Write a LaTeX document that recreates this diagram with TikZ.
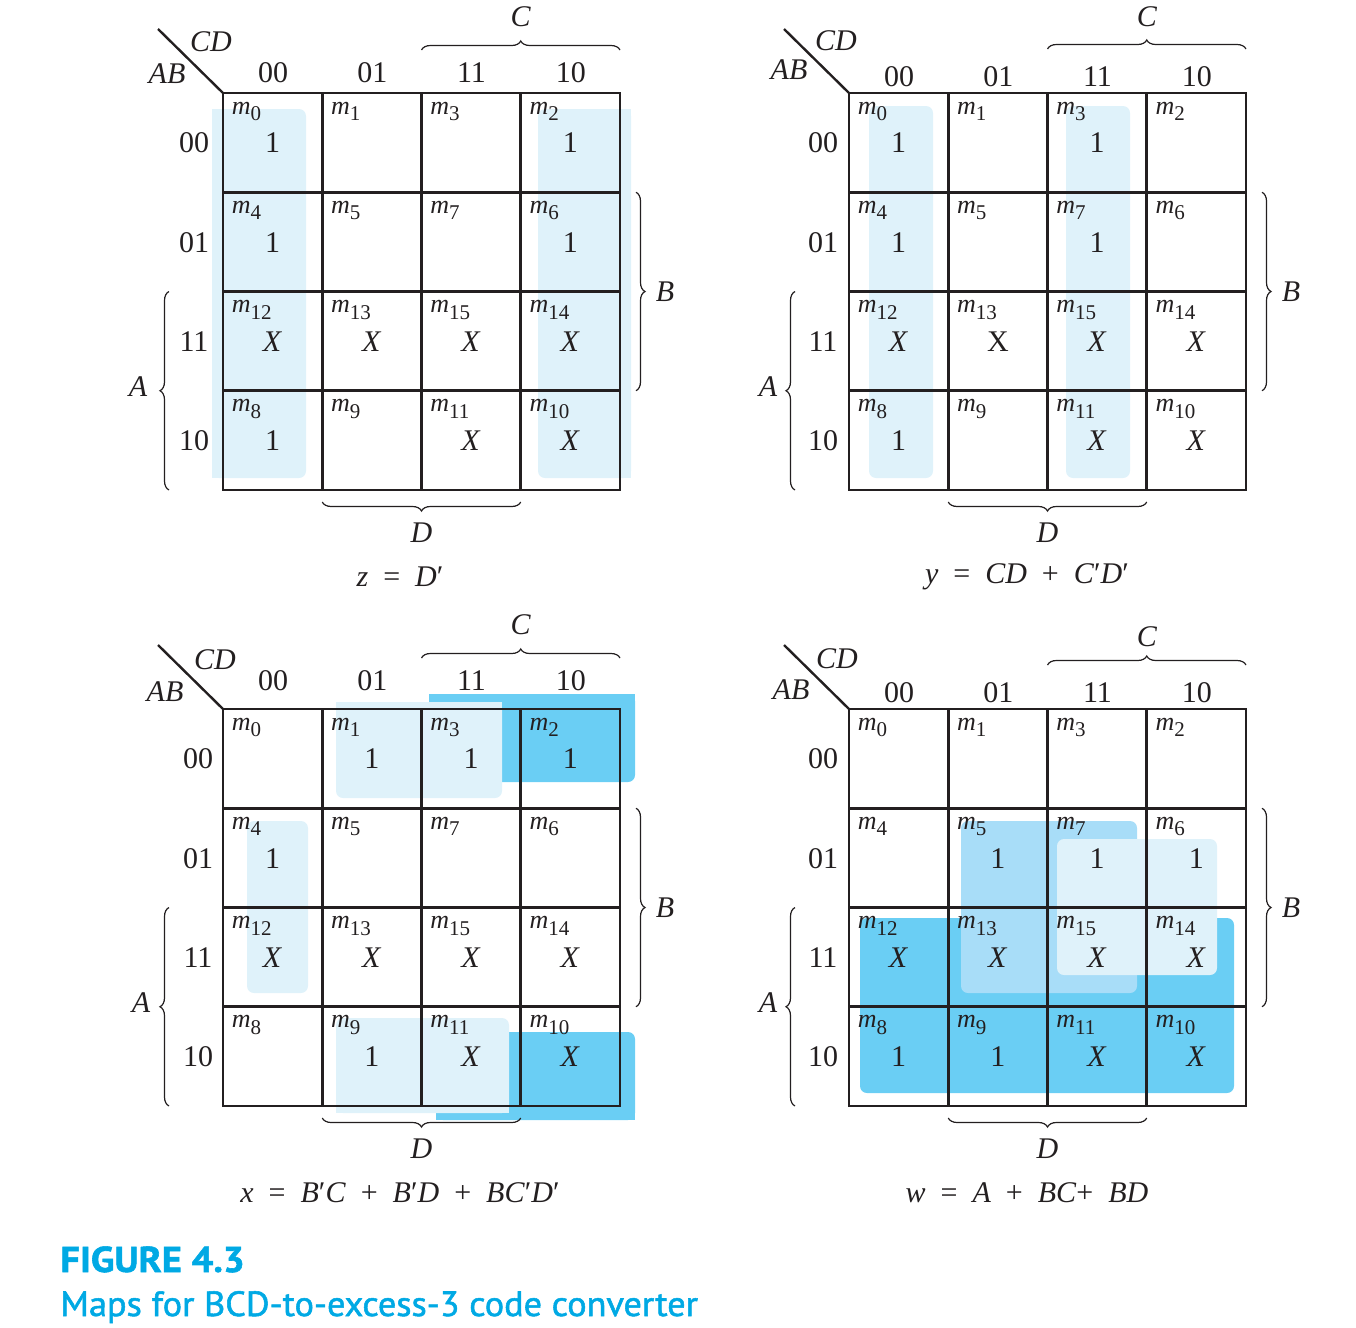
\documentclass[tikz,border=0pt]{standalone}
\usepackage{fontspec}
\setmainfont{Liberation Serif}
\newfontfamily\capfont[FakeBold=1.5]{PT Sans Bold}
\newfontfamily\capsemi[FakeBold=1.5]{PT Sans}
\usetikzlibrary{decorations.pathreplacing}
\definecolor{lt}{RGB}{223,242,250}
\definecolor{md}{RGB}{168,221,248}
\definecolor{dk}{RGB}{106,206,244}
\definecolor{ink}{RGB}{35,31,32}
\definecolor{capblue}{RGB}{0,169,228}
\tikzset{
  grid/.style={line width=1.4pt, draw=ink},
  brc/.style={decorate, decoration={brace, amplitude=4.5pt}, line width=0.6pt, draw=ink},
  lbl/.style={font=\fontsize{15}{17}\selectfont, text=ink, inner sep=0pt},
  var/.style={font=\fontsize{15}{17}\selectfont\itshape, text=ink, inner sep=0pt},
  mt/.style={font=\fontsize{13}{15}\selectfont, text=ink, inner sep=0pt, anchor=base west},
  val/.style={font=\fontsize{15}{17}\selectfont, text=ink, inner sep=0pt},
  eqn/.style={font=\fontsize{15}{17}\selectfont, text=ink, inner sep=0pt},
}
\newcommand\msub[1]{\textit{m}\raisebox{-3.3pt}{\fontsize{10.5}{11}\selectfont #1}}
\newcommand\gap{\hspace{0.5em}}
\newcommand\grp[5]{\fill[#1, rounded corners=3.5pt] (#2,#3) rectangle (#4,#5);}
% frame of one map, drawn in a shifted scope; parameters via \def
\newcommand\kframe[1]{%
  \foreach \c/\r/\m in {0/0/0,1/0/1,2/0/3,3/0/2,0/1/4,1/1/5,2/1/7,3/1/6,0/2/12,1/2/13,2/2/15,3/2/14,0/3/8,1/3/9,2/3/11,3/3/10}
    \node[mt] (#1m\m) at (\c*99.25+8.5, \r*99.25+21) {\msub{\m}};
  \draw[grid] (0,0) rectangle (397,397);
  \foreach \i in {1,2,3}{%
    \draw[grid] (\i*99.25,0) -- (\i*99.25,397);
    \draw[grid] (0,\i*99.25) -- (397,\i*99.25);}
  \foreach \t [count=\i from 0] in {00,01,11,10}{%
    \node[lbl] (#1col\i) at (\i*99.25+50, \hdy) {\t};
    \node[lbl] (#1row\i) at (\rlx, \i*99.25+50) {\t};}
  \coordinate (#1dg) at (-65,-64);
  \coordinate (#1corner) at (0,0);
  \draw[line width=1.2pt, ink] (#1dg) -- (#1corner);
  \node[var] (#1cd) at (\cdx,\cdy) {CD};
  \node[var] (#1ab) at (\abx,\aby) {AB};
  \draw[brc] (198.5,\cby) -- (397,\cby);
  \node[var] (#1C) at (297.75,\cly) {C};
  \draw[brc] (413,99.25) -- (413,297.75);
  \node[var] (#1B) at (442,198.5) {B};
  \draw[brc] (-54,397) -- (-54,198.5);
  \node[var] (#1A) at (\alx,294) {A};
  \draw[brc] (297.75,409) -- (99.25,409);
  \node[var] (#1D) at (198.5,440) {D};
}
\newcommand\kvals[2]{%
  \foreach \c/\r/\v in {#2}
    \node[val] (#1v\c\r) at (\c*99.25+49.6, \r*99.25+50) {\v};
}
\begin{document}
\begin{tikzpicture}[x=0.5pt, y=-0.5pt]
\useasboundingbox (0,0) rectangle (1356,1328);
% ---------- highlights ----------
% z map
\grp{lt}{212}{109}{306}{478}
\fill[lt] (212,109) rectangle (232,478);
\grp{lt}{538}{109}{631}{478}
\fill[lt] (611,109) rectangle (631,478);
% y map
\grp{lt}{869}{106}{933}{478}
\grp{lt}{1066}{106}{1130}{478}
% x map
\grp{dk}{429}{694}{635}{782}
\fill[dk] (429,694) rectangle (635,715);
\grp{dk}{436}{1032}{635}{1120}
\fill[dk] (436,1100) rectangle (635,1120);
\grp{lt}{336}{702}{502}{798}
\fill[lt] (336,702) rectangle (502,720);
\grp{lt}{247}{821}{308}{993}
\grp{lt}{336}{1018}{509}{1113}
\fill[lt] (336,1095) rectangle (509,1113);
% w map
\grp{dk}{860}{918}{1234}{1093}
\grp{md}{961}{821}{1137}{993}
\grp{lt}{1057}{839}{1217}{975}
% ---------- map z ----------
\begin{scope}[shift={(223,93)}]
  \def\hdy{-20}\def\cby{-43}\def\cly{-76}\def\rlx{-29}
  \def\cdx{-12}\def\cdy{-51}\def\abx{-56}\def\aby{-19}\def\alx{-85}
  \kframe{z}
  \kvals{z}{0/0/1,3/0/1,0/1/1,3/1/1,0/2/\textit{X},1/2/\textit{X},2/2/\textit{X},3/2/\textit{X},0/3/1,2/3/\textit{X},3/3/\textit{X}}
  \node[eqn] (zeq) at (177,484) {\textit{z}\gap=\gap\textit{D}′};
\end{scope}
% ---------- map y ----------
\begin{scope}[shift={(849,93)}]
  \def\hdy{-16}\def\cby{-44}\def\cly{-76}\def\rlx{-26}
  \def\cdx{-13}\def\cdy{-52}\def\abx{-60}\def\aby{-23}\def\alx{-81}
  \kframe{y}
  \kvals{y}{0/0/1,2/0/1,0/1/1,2/1/1,0/2/\textit{X},1/2/X,2/2/\textit{X},3/2/\textit{X},0/3/1,2/3/\textit{X},3/3/\textit{X}}
  \node[eqn] (yeq) at (178,484) {\textit{y}\gap=\gap\textit{CD}\gap+\gap\textit{C}′\textit{D}′};
\end{scope}
% ---------- map x ----------
\begin{scope}[shift={(223,709)}]
  \def\hdy{-28}\def\cby{-51}\def\cly{-84}\def\rlx{-25}
  \def\cdx{-8}\def\cdy{-49}\def\abx{-58}\def\aby{-17}\def\alx{-82}
  \kframe{x}
  \kvals{x}{1/0/1,2/0/1,3/0/1,0/1/1,0/2/\textit{X},1/2/\textit{X},2/2/\textit{X},3/2/\textit{X},1/3/1,2/3/\textit{X},3/3/\textit{X}}
  \node[eqn] (xeq) at (177,484) {\textit{x}\gap=\gap\textit{B}′\textit{C}\gap+\gap\textit{B}′\textit{D}\gap+\gap\textit{BC}′\textit{D}′};
\end{scope}
% ---------- map w ----------
\begin{scope}[shift={(849,709)}]
  \def\hdy{-16}\def\cby{-44}\def\cly{-72}\def\rlx{-26}
  \def\cdx{-12}\def\cdy{-50}\def\abx{-58}\def\aby{-19}\def\alx{-81}
  \kframe{w}
  \kvals{w}{1/1/1,2/1/1,3/1/1,0/2/\textit{X},1/2/\textit{X},2/2/\textit{X},3/2/\textit{X},0/3/1,1/3/1,2/3/\textit{X},3/3/\textit{X}}
  \node[eqn] (weq) at (178,484) {\textit{w}\gap=\gap\textit{A}\gap+\gap\textit{BC}+\gap\textit{BD}};
\end{scope}
% ---------- caption ----------
\node[anchor=base west, inner sep=0pt, text=capblue, font=\capfont\fontsize{18}{20}\selectfont] (fig) at (60,1272) {\scalebox{1.07}[1]{FIGURE 4.3}};
\node[anchor=base west, inner sep=0pt, text=capblue, font=\capsemi\fontsize{17.5}{20}\selectfont] (cap) at (60,1316) {\scalebox{1.035}[1]{Maps for BCD-to-excess-3 code converter}};
\end{tikzpicture}
\end{document}
